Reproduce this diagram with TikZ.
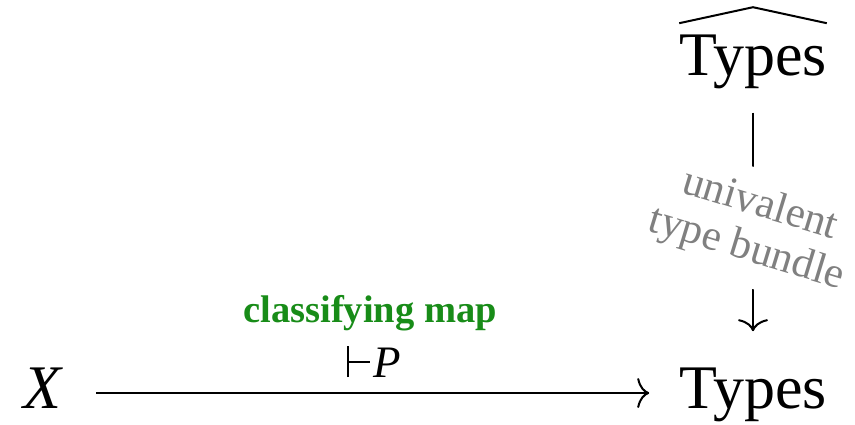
\documentclass[tikz,border=0pt]{standalone}
\usepackage{fontspec}
\setmainfont{Liberation Serif}
\usetikzlibrary{arrows.meta}
\definecolor{labgreen}{RGB}{24,140,24}
\definecolor{labgray}{RGB}{128,128,128}
\newcommand{\myvdash}{\rule{1.7pt}{31pt}\rule[14.5pt]{21pt}{1.7pt}}
\begin{document}
\begin{tikzpicture}[x=1pt,y=-1pt,
  obj/.style={inner sep=0pt, font=\fontsize{62}{70}\selectfont, anchor=base},
  arr/.style={line width=2pt, -{To[length=12pt,width=30pt]}},
  desc/.style={rotate=-17, fill=white, text=labgray, align=center,
    font=\fontsize{43}{46}\selectfont, inner xsep=4pt, inner ysep=16pt},
  maplabel/.style={anchor=base, inner sep=0pt}]
\useasboundingbox (0,0) rectangle (855,424);
\node[obj] (X) at (42,408) {\itshape X};
\node[obj] (bot) at (753,408) {Types};
\node[obj] (top) at (753,75) {Types};
\draw[line width=2pt, line join=miter] ([yshift=11pt]top.north west) -- ([yshift=27pt]top.north) -- ([yshift=11pt]top.north east);
\draw[arr, shorten <=24pt, shorten >=36pt] (top.south) -- (bot.north)
  node[midway, desc] (ub) {univalent\\type bundle};
\draw[arr, shorten <=35pt, shorten >=30pt] ([yshift=15pt]X.base east) -- ([yshift=15pt]bot.base west)
  node[midway, maplabel, xshift=4pt, yshift=16pt, font=\fontsize{45}{50}\selectfont] (lbl) {\myvdash\hspace{4pt}\itshape P}
  node[midway, maplabel, yshift=71pt, text=labgreen, font=\fontsize{38.5}{46}\selectfont\bfseries] (cm) {classifying map};
\end{tikzpicture}
\end{document}
